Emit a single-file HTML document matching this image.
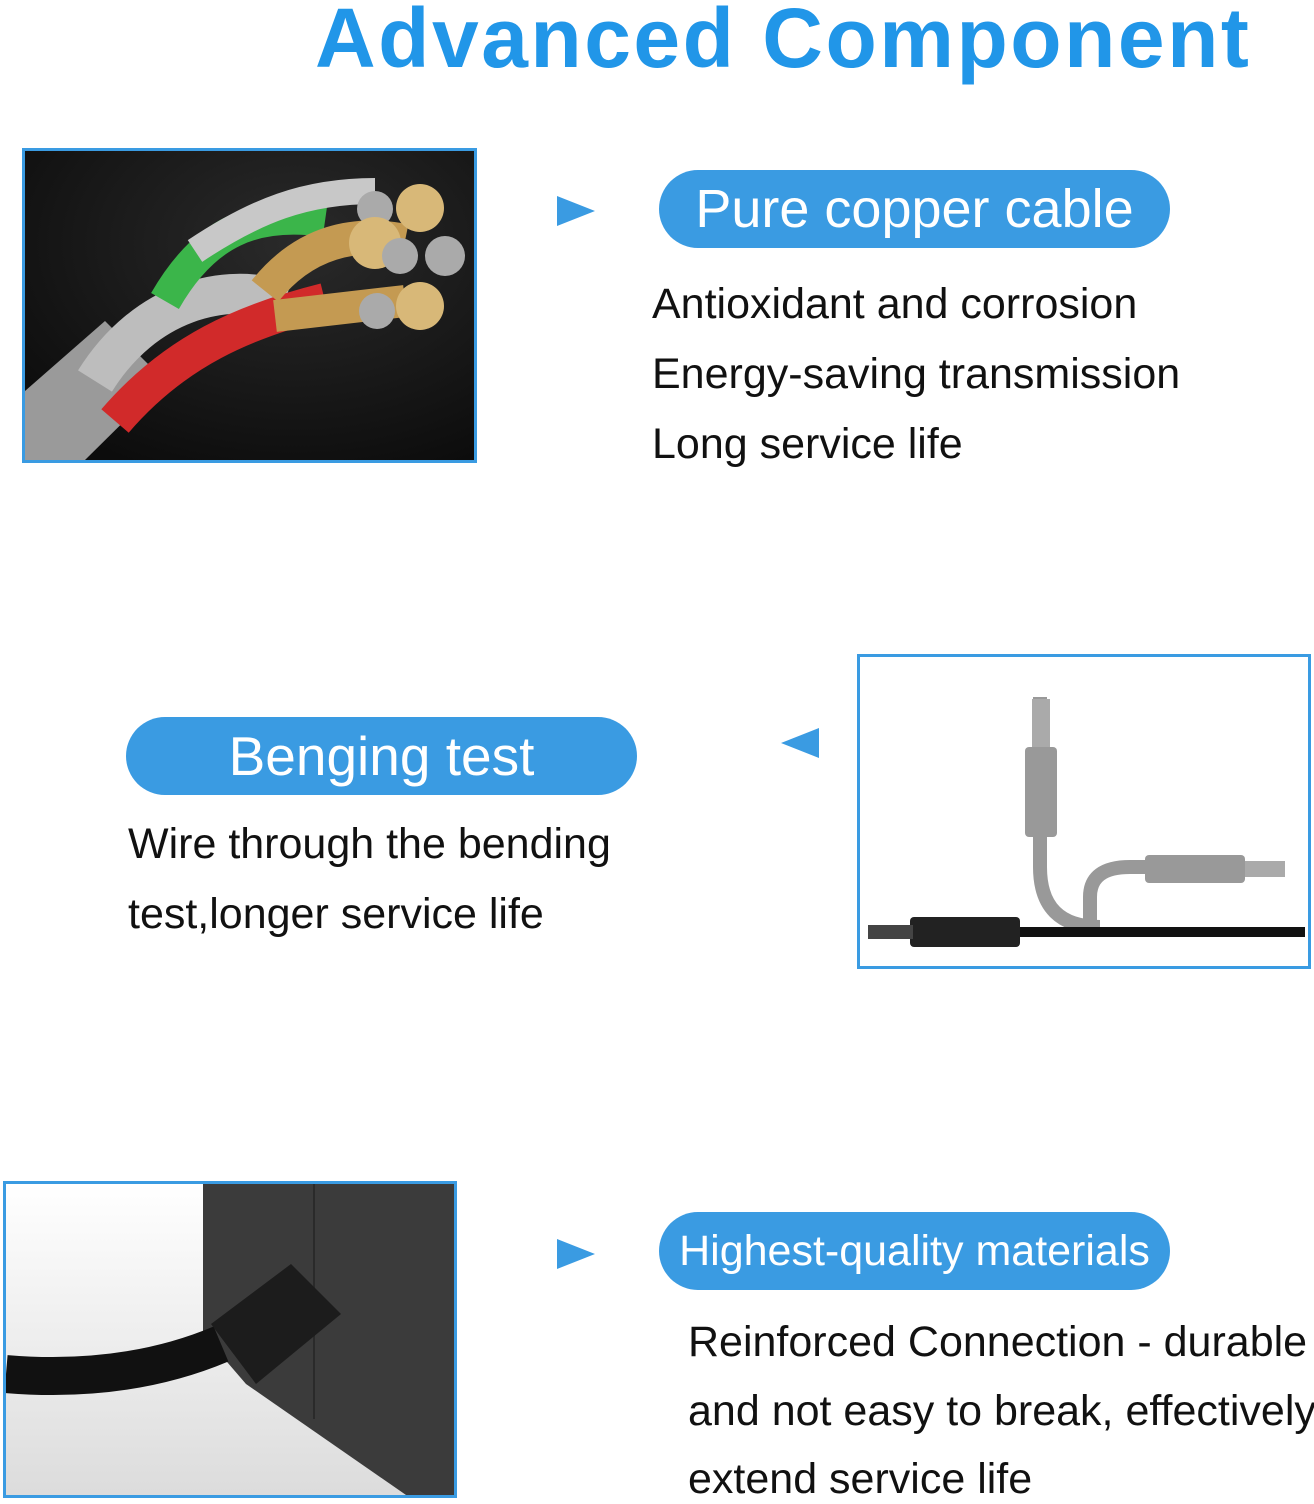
<!DOCTYPE html>
<html><head><meta charset="utf-8"><style>
body{margin:0;width:1314px;height:1500px;background:#fff;position:relative;overflow:hidden;font-family:"Liberation Sans",sans-serif}
.a{position:absolute}
.title{left:315px;top:-10px;font-size:84px;font-weight:bold;color:#2196e8;white-space:nowrap;letter-spacing:2.5px}
.pill{background:#3a9be2;border-radius:40px;color:#fff;text-align:center;height:78px;line-height:78px;width:511px;white-space:nowrap}
.t{font-size:43px;color:#111;white-space:nowrap}
.box{border:3px solid #3a9be2;box-sizing:border-box}
</style></head><body>
<div class="a title">Advanced Component</div>

<div class="a box" style="left:22px;top:148px;width:455px;height:315px;background:#111">
<svg width="449" height="309" viewBox="0 0 449 309">
<defs><radialGradient id="bg" cx="0.6" cy="0.3" r="0.8"><stop offset="0" stop-color="#2a2a2a"/><stop offset="1" stop-color="#0c0c0c"/></radialGradient></defs>
<rect width="449" height="309" fill="url(#bg)"/>
<path d="M0 240 L80 170 L140 230 L60 309 L0 309Z" fill="#9a9a9a"/>
<path d="M70 230 C120 150 200 130 260 150" stroke="#bdbdbd" stroke-width="40" fill="none"/>
<path d="M90 270 C150 200 220 170 300 150" stroke="#d12a2a" stroke-width="36" fill="none"/>
<path d="M140 150 C180 80 230 60 300 70" stroke="#3bb54a" stroke-width="32" fill="none"/>
<path d="M170 100 C230 60 280 40 350 40" stroke="#c8c8c8" stroke-width="26" fill="none"/>
<path d="M240 140 C280 90 330 80 380 90" stroke="#c49a52" stroke-width="34" fill="none"/>
<path d="M250 165 L380 150" stroke="#c49a52" stroke-width="32"/>
<circle cx="395" cy="57" r="24" fill="#d8b878"/>
<circle cx="350" cy="58" r="18" fill="#aaa"/>
<circle cx="350" cy="92" r="26" fill="#d8b878"/>
<circle cx="375" cy="105" r="18" fill="#aaa"/>
<circle cx="420" cy="105" r="20" fill="#aaa"/>
<circle cx="395" cy="155" r="24" fill="#d8b878"/>
<circle cx="352" cy="160" r="18" fill="#aaa"/>
</svg></div>
<svg class="a" style="left:557px;top:196px" width="38" height="30"><polygon points="0,0 38,15 0,30" fill="#3a9be2"/></svg>
<div class="a pill" style="left:659px;top:170px;font-size:54px">Pure copper cable</div>
<div class="a t" style="left:652px;top:280px">Antioxidant and corrosion</div>
<div class="a t" style="left:652px;top:350px">Energy-saving transmission</div>
<div class="a t" style="left:652px;top:420px">Long service life</div>

<div class="a pill" style="left:126px;top:717px;font-size:55px">Benging test</div>
<div class="a t" style="left:128px;top:820px">Wire through the bending</div>
<div class="a t" style="left:128px;top:890px">test,longer service life</div>
<svg class="a" style="left:781px;top:728px" width="38" height="30"><polygon points="38,0 0,15 38,30" fill="#3a9be2"/></svg>
<div class="a box" style="left:857px;top:654px;width:454px;height:315px;background:#fff">
<svg width="448" height="309" viewBox="0 0 448 309">
<path d="M180 40 L180 210 Q180 270 240 270" stroke="#999" stroke-width="14" fill="none"/>
<rect x="172" y="42" width="18" height="50" fill="#aaa"/>
<rect x="165" y="90" width="32" height="90" rx="4" fill="#999"/>
<path d="M230 270 L230 240 Q230 210 270 210 L300 210" stroke="#999" stroke-width="14" fill="none"/>
<rect x="285" y="198" width="100" height="28" rx="4" fill="#999"/>
<rect x="385" y="204" width="40" height="16" fill="#aaa"/>
<path d="M160 275 L445 275" stroke="#111" stroke-width="10"/>
<rect x="50" y="260" width="110" height="30" rx="4" fill="#222"/>
<rect x="8" y="268" width="45" height="14" fill="#444"/>
</svg></div>

<div class="a box" style="left:3px;top:1181px;width:454px;height:317px;background:#fff">
<svg width="448" height="311" viewBox="0 0 448 311">
<defs><linearGradient id="fl" x1="0" y1="0" x2="0" y2="1"><stop offset="0" stop-color="#fff"/><stop offset="1" stop-color="#dcdcdc"/></linearGradient></defs>
<rect width="448" height="311" fill="url(#fl)"/>
<path d="M197 0 L448 0 L448 311 L400 311 L240 200 L197 150 Z" fill="#3b3b3b"/>
<line x1="308" y1="0" x2="308" y2="235" stroke="#2a2a2a" stroke-width="2"/>
<path d="M0 190 Q120 200 215 160" stroke="#111" stroke-width="38" fill="none"/>
<path d="M205 140 L285 80 L335 130 L250 200 Z" fill="#1c1c1c"/>
</svg></div>
<svg class="a" style="left:557px;top:1239px" width="38" height="30"><polygon points="0,0 38,15 0,30" fill="#3a9be2"/></svg>
<div class="a pill" style="left:659px;top:1212px;font-size:43px">Highest-quality materials</div>
<div class="a t" style="left:688px;top:1318px">Reinforced Connection - durable</div>
<div class="a t" style="left:688px;top:1387px">and not easy to break, effectively</div>
<div class="a t" style="left:688px;top:1455px">extend service life</div>
</body></html>
